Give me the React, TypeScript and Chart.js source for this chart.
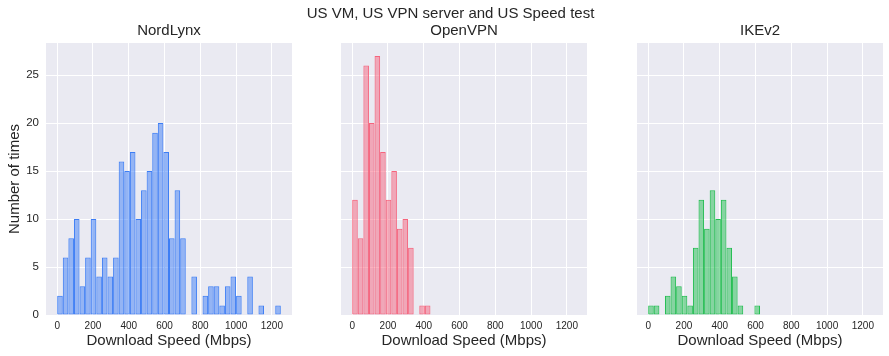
import React, { useEffect, useRef } from "react";
import { Chart, registerables } from "chart.js";

Chart.register(...registerables);

// Histogram bins: width and start (Mbps)
const BIN_START = 0;
const BIN_WIDTH = 31.25;

// Counts per bin
const nordLynxCounts = [2, 6, 8, 10, 3, 6, 10, 4, 6, 4, 6, 16, 15, 17, 10, 13, 15, 19, 20, 17, 8, 13, 8, 0, 4, 0, 2, 3, 3, 1, 3, 4, 2, 0, 4, 0, 1, 0, 0, 1];
const openVpnCounts = [12, 8, 26, 20, 27, 17, 12, 15, 9, 10, 7, 0, 1, 1];
const ikev2Counts = [1, 1, 0, 2, 4, 3, 2, 1, 7, 12, 9, 13, 10, 12, 7, 4, 1, 0, 0, 1];

const panelTitles = ["NordLynx", "OpenVPN", "IKEv2"];
const xTicks = [0, 200, 400, 600, 800, 1000, 1200];
const yTicks = [0, 5, 10, 15, 20, 25];
const X_MIN = -62.5;
const X_MAX = 1312.5;
const Y_MAX = 28.35;

const suptitle = "US VM, US VPN server and US Speed test";
const xLabel = "Download Speed (Mbps)";
const yLabel = "Number of times";

const FONT = "'Liberation Sans', Arial, sans-serif";
const TEXT = "#262626";
const BG = "#EAEAF2";

const panelStyles = [
  { edge: "rgb(61,126,245)", fill: "rgba(61,126,245,0.5)" },
  { edge: "rgb(246,100,125)", fill: "rgba(246,100,125,0.5)" },
  { edge: "rgb(34,190,80)", fill: "rgba(34,190,80,0.5)" },
];

const bgPlugin = {
  id: "bgFill",
  beforeDraw(chart: any) {
    const { ctx, chartArea } = chart;
    if (!chartArea) return;
    ctx.save();
    ctx.fillStyle = BG;
    ctx.fillRect(chartArea.left, chartArea.top, chartArea.right - chartArea.left, chartArea.bottom - chartArea.top);
    ctx.restore();
  },
};

function Panel({ idx, counts, left, width }: { idx: number; counts: number[]; left: number; width: number }) {
  const ref = useRef<HTMLCanvasElement | null>(null);
  useEffect(() => {
    if (!ref.current) return;
    const first = idx === 0;
    const data = counts.map((c, i) => ({ x: BIN_START + BIN_WIDTH * (i + 0.5), y: c === 0 ? null : c }));
    const st = panelStyles[idx];
    const chart = new Chart(ref.current, {
      type: "bar",
      data: {
        datasets: [
          {
            data: data as any,
            backgroundColor: st.fill,
            borderColor: st.edge,
            borderWidth: 1,
            borderSkipped: false,
            inflateAmount: 0,
            barPercentage: 1,
            categoryPercentage: 1,
          } as any,
        ],
      },
      plugins: [bgPlugin],
      options: {
        animation: false,
        responsive: false,
        maintainAspectRatio: false,
        layout: { padding: 0 },
        plugins: {
          legend: { display: false },
          tooltip: { enabled: false },
          title: {
            display: true,
            text: panelTitles[idx],
            fullSize: false,
            color: TEXT,
            font: { family: FONT, size: 15, weight: "normal" as any, lineHeight: 1.2 },
            padding: { top: 22, bottom: 3 },
          },
        },
        scales: {
          x: {
            type: "linear",
            offset: false,
            min: X_MIN,
            max: X_MAX,
            afterBuildTicks(scale: any) {
              scale.ticks = xTicks.map((v) => ({ value: v }));
            },
            afterFit(scale: any) {
              scale.height = 41;
            },
            grid: { color: "#ffffff", lineWidth: 1, drawTicks: false, offset: false },
            border: { display: false },
            ticks: {
              color: TEXT,
              font: { family: FONT, size: 10 },
              padding: 5,
              maxRotation: 0,
              autoSkip: false,
              callback: (v: any) => String(v),
            },
            title: {
              display: true,
              text: xLabel,
              color: TEXT,
              font: { family: FONT, size: 15, lineHeight: 1.2 },
              padding: { top: 0, bottom: 6 },
            },
          },
          y: {
            type: "linear",
            min: 0,
            max: Y_MAX,
            afterBuildTicks(scale: any) {
              scale.ticks = yTicks.map((v) => ({ value: v }));
            },
            afterFit(scale: any) {
              scale.width = first ? 46 : 0;
            },
            grid: { color: "#ffffff", lineWidth: 1, drawTicks: false },
            border: { display: false },
            ticks: {
              display: first,
              color: TEXT,
              font: { family: FONT, size: 11.5 },
              padding: 7,
              callback: (v: any) => String(v),
            },
            title: {
              display: first,
              text: yLabel,
              color: TEXT,
              font: { family: FONT, size: 15, lineHeight: 1.2 },
              padding: { top: 6, bottom: 0 },
            },
          },
        },
      } as any,
    });
    return () => chart.destroy();
  }, [idx, counts]);
  return (
    <canvas
      ref={ref}
      width={width}
      height={356}
      style={{ position: "absolute", left, top: 0, width, height: 356 }}
    />
  );
}

export default function App() {
  return (
    <div style={{ position: "fixed", left: 0, top: 0, width: 889, height: 356, background: "#ffffff", overflow: "hidden" }}>
      <Panel idx={0} counts={nordLynxCounts} left={0} width={292} />
      <Panel idx={1} counts={openVpnCounts} left={341} width={246} />
      <Panel idx={2} counts={ikev2Counts} left={637} width={246} />
      <div
        style={{
          position: "absolute",
          left: 0,
          width: 901,
          top: 4,
          textAlign: "center",
          fontFamily: FONT,
          fontSize: 15,
          lineHeight: "18px",
          color: TEXT,
          whiteSpace: "nowrap",
        }}
      >
        {suptitle}
      </div>
    </div>
  );
}
